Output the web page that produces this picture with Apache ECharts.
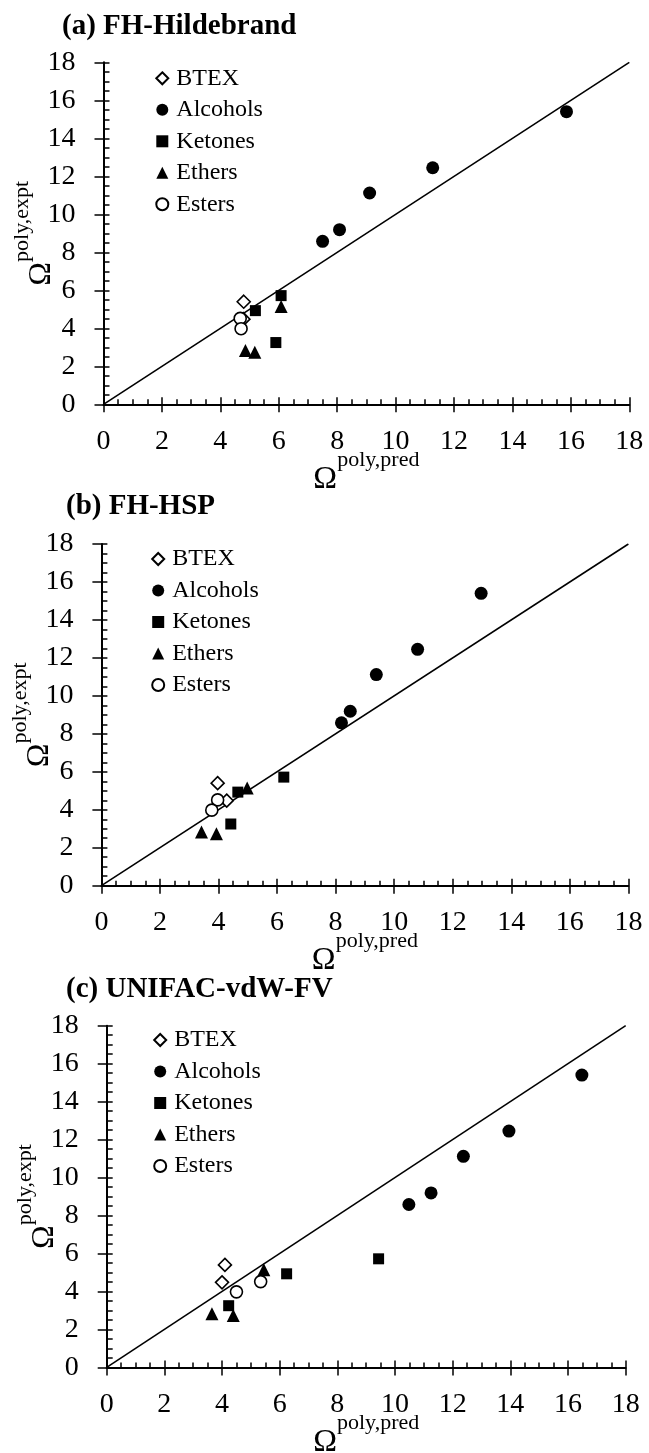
<!DOCTYPE html>
<html>
<head>
<meta charset="utf-8">
<script src="https://cdn.jsdelivr.net/npm/echarts@6/dist/echarts.min.js"></script>
<style>
html,body{margin:0;padding:0;background:#fff;}
#chart{width:649px;height:1453px;}
</style>
</head>
<body>
<div id="chart"></div>
<script>
// ---- data ----
const categories = ['BTEX', 'Alcohols', 'Ketones', 'Ethers', 'Esters'];
const panelTitles = ['(a) FH-Hildebrand', '(b) FH-HSP', '(c) UNIFAC-vdW-FV'];
const axisTicks = [0, 2, 4, 6, 8, 10, 12, 14, 16, 18];

// experimental values (y)
const exptBTEX = [5.40, 4.48];
const exptAlcohols = [15.40, 12.45, 11.12, 9.19, 8.58];
const exptKetones = [5.72, 4.93, 3.25];
const exptEthers = [5.15, 2.83, 2.74];
const exptEsters = [4.52, 3.98];

// (a) FH-Hildebrand predictions (x)
const hildBTEX = [4.80, 4.79];
const hildAlcohols = [15.85, 11.27, 9.11, 8.08, 7.50];
const hildKetones = [6.08, 5.20, 5.90];
const hildEthers = [6.08, 4.86, 5.18];
const hildEsters = [4.68, 4.71];

// (b) FH-HSP predictions (x)
const hspBTEX = [3.97, 4.28];
const hspAlcohols = [12.97, 10.80, 9.39, 8.50, 8.20];
const hspKetones = [6.23, 4.66, 4.42];
const hspEthers = [4.98, 3.42, 3.93];
const hspEsters = [3.97, 3.77];

// (c) UNIFAC-vdW-FV predictions (x)
const unifBTEX = [4.10, 4.00];
const unifAlcohols = [16.48, 13.95, 12.37, 11.25, 10.48];
const unifKetones = [9.43, 6.24, 4.23];
const unifEthers = [5.45, 3.65, 4.39];
const unifEsters = [5.34, 4.50];

const parityLine = [0, 18];

// ---- layout / style ----
const FONT = 'Liberation Serif';
const expts = [exptBTEX, exptAlcohols, exptKetones, exptEthers, exptEsters];
const preds = [
  [hildBTEX, hildAlcohols, hildKetones, hildEthers, hildEsters],
  [hspBTEX, hspAlcohols, hspKetones, hspEthers, hspEsters],
  [unifBTEX, unifAlcohols, unifKetones, unifEthers, unifEsters]
];
const grids = [
  {left: 103.5, top: 62.3, width: 525.8, height: 342},
  {left: 101.4, top: 544, width: 527, height: 341.7},
  {left: 106.7, top: 1025.7, width: 519, height: 341.7}
];
const titlePos = [{left: 62, top: 12}, {left: 66, top: 492}, {left: 66, top: 975}];
const legendPos = [{left: 155.3, top: 66.3}, {left: 151.2, top: 547}, {left: 153.2, top: 1028}];

const symbolStyles = {
  'BTEX': {symbol: 'diamond', symbolSize: 13, itemStyle: {color: '#fff', borderColor: '#000', borderWidth: 1.6, opacity: 1}},
  'Alcohols': {symbol: 'circle', symbolSize: 13, itemStyle: {color: '#000', opacity: 1}},
  'Ketones': {symbol: 'rect', symbolSize: 11, itemStyle: {color: '#000', opacity: 1}},
  'Ethers': {symbol: 'triangle', symbolSize: 13, itemStyle: {color: '#000', opacity: 1}},
  'Esters': {symbol: 'circle', symbolSize: 12, itemStyle: {color: '#fff', borderColor: '#000', borderWidth: 1.6, opacity: 1}}
};

const nameRich = {
  o: {fontFamily: FONT, fontSize: 32, color: '#000', lineHeight: 46, verticalAlign: 'bottom'},
  s: {fontFamily: FONT, fontSize: 22, color: '#000', lineHeight: 22, verticalAlign: 'top'}
};

const xAxes = [], yAxes = [], series = [], titles = [], legends = [];
grids.forEach((g, i) => {
  const base = {gridIndex: i, type: 'value', min: axisTicks[0], max: axisTicks[axisTicks.length - 1],
    interval: axisTicks[1] - axisTicks[0], splitLine: {show: false}};
  xAxes.push(Object.assign({}, base, {
    position: 'bottom',
    axisLine: {show: true, onZero: false, lineStyle: {color: '#000', width: 2}},
    axisTick: {show: true, inside: true, length: 7, lineStyle: {color: '#000', width: 1.5}},
    minorTick: {show: true, splitNumber: 4, length: 5, lineStyle: {color: '#000', width: 1.5}},
    axisLabel: {show: true, margin: 23, fontFamily: FONT, fontSize: 28, color: '#000'},
    name: '{o|Ω}{s|poly,pred}', nameLocation: 'middle', nameGap: 45, nameMoveOverlap: false,
    nameTextStyle: {rich: nameRich}
  }));
  xAxes.push(Object.assign({}, base, {
    position: 'bottom',
    axisLine: {show: false, onZero: false},
    axisTick: {show: true, inside: false, length: 8, lineStyle: {color: '#000', width: 1.5}},
    axisLabel: {show: false}
  }));
  yAxes.push(Object.assign({}, base, {
    position: 'left',
    axisLine: {show: true, onZero: false, lineStyle: {color: '#000', width: 2}},
    axisTick: {show: true, inside: true, length: 6, lineStyle: {color: '#000', width: 1.5}},
    minorTick: {show: true, splitNumber: 4, length: 6, lineStyle: {color: '#000', width: 1.5}},
    axisLabel: {show: true, margin: 28, fontFamily: FONT, fontSize: 28, color: '#000'},
    name: '{o|Ω}{s|poly,expt}', nameLocation: 'middle', nameRotate: 90, nameGap: 46, nameMoveOverlap: false,
    nameTextStyle: {rich: nameRich}
  }));
  yAxes.push(Object.assign({}, base, {
    position: 'left',
    axisLine: {show: false, onZero: false},
    axisTick: {show: true, inside: false, length: 9, lineStyle: {color: '#000', width: 1.5}},
    axisLabel: {show: false}
  }));

  series.push({
    type: 'line', xAxisIndex: 2 * i, yAxisIndex: 2 * i, z: 1,
    data: [[parityLine[0], parityLine[0]], [parityLine[1], parityLine[1]]],
    symbol: 'none', silent: true,
    lineStyle: {color: '#000', width: 1.6, opacity: 1}
  });
  categories.forEach((c, k) => {
    const xs = preds[i][k], ys = expts[k];
    series.push(Object.assign({
      type: 'scatter', name: c, xAxisIndex: 2 * i, yAxisIndex: 2 * i, z: 3,
      data: xs.map((x, j) => [x, ys[j]])
    }, symbolStyles[c]));
  });

  titles.push({
    text: panelTitles[i], left: titlePos[i].left, top: titlePos[i].top, padding: 0,
    textStyle: {fontFamily: FONT, fontSize: 29, fontWeight: 'bold', color: '#000'}
  });
  legends.push({
    data: categories, orient: 'vertical', left: legendPos[i].left, top: legendPos[i].top,
    padding: 0, itemWidth: 12, itemHeight: 12, itemGap: 7.5, selectedMode: false,
    textStyle: {fontFamily: FONT, fontSize: 24, color: '#000', padding: [0, 0, 0, 3]}
  });
});

grids.forEach(g => { g.containLabel = false; g.outerBoundsMode = 'none'; });

const chart = echarts.init(document.getElementById('chart'), null, {renderer: 'canvas'});
chart.setOption({
  animation: false,
  backgroundColor: '#fff',
  title: titles,
  legend: legends,
  grid: grids,
  xAxis: xAxes,
  yAxis: yAxes,
  series: series
});
</script>
</body>
</html>
